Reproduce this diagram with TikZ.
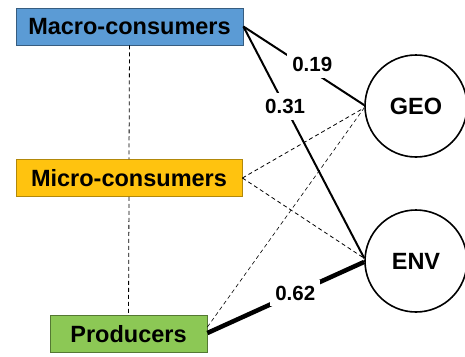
\documentclass[tikz,border=0pt]{standalone}
\usepackage{fontspec}
\setmainfont{Liberation Sans}
\usepackage{xcolor}
\definecolor{macroblue}{RGB}{91,155,213}
\definecolor{microgold}{RGB}{255,195,15}
\definecolor{prodgreen}{RGB}{140,200,85}

\begin{document}
\begin{tikzpicture}[x=1pt,y=-1pt,
   group/.style={draw,line width=0.8pt,minimum height=37pt,inner sep=0pt,font=\fontsize{23.5}{27}\selectfont\bfseries},
   factor/.style={draw,circle,line width=1.6pt,minimum size=102pt,inner sep=0pt,font=\fontsize{23.5}{27}\selectfont\bfseries},
   load/.style={line width=2pt},
   weak/.style={line width=0.8pt,dash pattern=on 4pt off 3pt},
   coef/.style={fill=white,inner xsep=5pt,inner ysep=6pt,font=\fontsize{20.5}{24}\selectfont\bfseries}]
   \useasboundingbox (0,0) rectangle (465,356);
   \node[group,fill=macroblue,draw=macroblue!60!black,minimum width=227pt] (macro) at (129.5,26.5) {Macro-consumers};
    \node[group,fill=microgold,draw=microgold!70!black,minimum width=226pt] (micro) at (129,178) {Micro-consumers};
   \node[group,fill=prodgreen,draw=prodgreen!60!black,minimum width=157pt] (prod) at (128.5,334) {Producers};
    \node[factor] (geo) at (416,106) {GEO};
    \node[factor] (env) at (416,261) {ENV};

  \draw[weak] (macro.south) -- (micro.north);
  \draw[weak] (micro.south) -- (prod.north);
  \draw[weak] (micro.east) -- (geo.182);
  \draw[weak] (micro.east) -- (env.177);
  \draw[weak,line width=0.6pt] ([yshift=7pt]prod.east) -- (geo.182);
  \draw[load] (macro.east) -- (geo.179) node[coef,pos=.57,yshift=7pt] (c19) {0.19};
  \draw[load] (macro.east) -- (env.177) node[coef,pos=.345] (c31) {0.31};
  \draw[load,line width=4.5pt] ([yshift=1pt]prod.east) -- (env.181) node[coef,pos=.56] (c62) {0.62};
  %\draw[weak] (macro.east) -- (env.west);
\end{tikzpicture}
\end{document}
